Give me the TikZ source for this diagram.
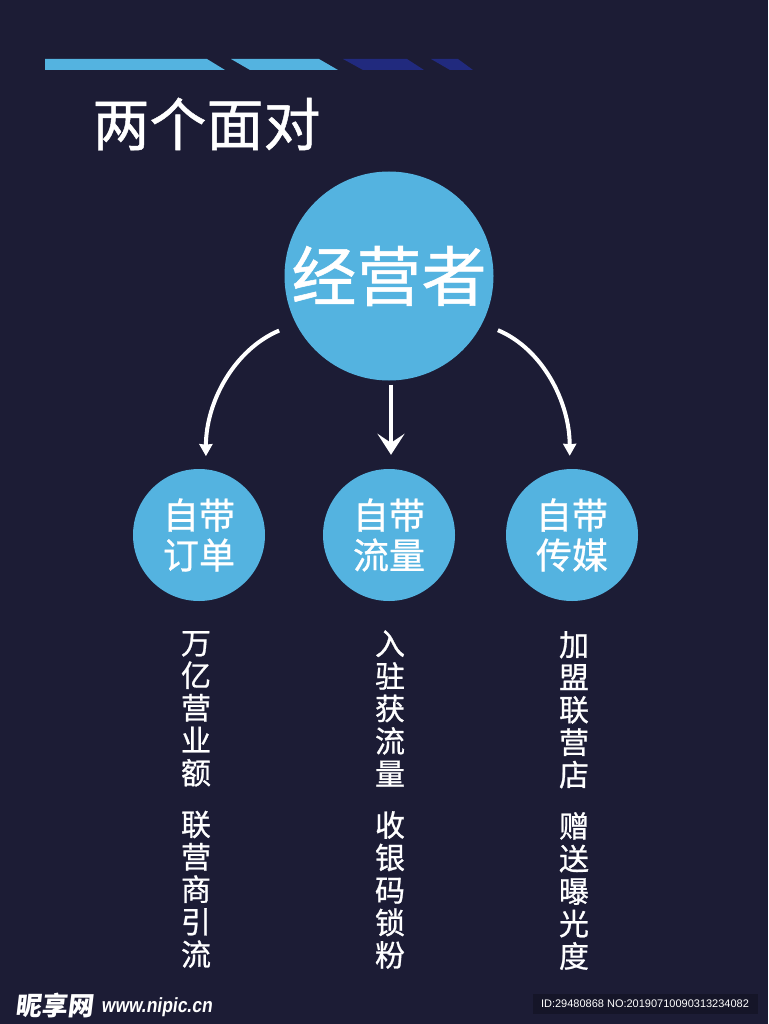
\documentclass[tikz,border=0pt]{standalone}
\usepackage{fontspec}
\setmainfont[FakeBold=0.8]{Noto Sans CJK SC}
\newfontfamily\logofont[FakeSlant=0.12,BoldFeatures={FakeSlant=0.12}]{Noto Sans CJK SC}
\newfontfamily\markfont[FakeSlant=0.15,FakeStretch=0.85]{Liberation Sans Bold}
\newfontfamily\idfont{Liberation Sans}
\usetikzlibrary{arrows.meta}
\definecolor{bgnavy}{HTML}{1C1C35}
\definecolor{skyblue}{HTML}{54B3E0}
\definecolor{darkblue}{HTML}{212A7E}
\tikzstyle{boss} = [circle, minimum size=209pt, inner sep=0pt, text centered, fill=skyblue, text=white, font=\fontsize{65}{65}\selectfont]
\tikzstyle{self} = [circle, minimum size=132pt, inner sep=0pt, text centered, fill=skyblue, text=white, align=center, font=\fontsize{36}{40}\selectfont]
\tikzstyle{column} = [inner sep=0pt, text=white, align=center, font=\fontsize{30}{32.5}\selectfont]
\tikzstyle{arrow} = [line width=4pt, white, -{Stealth[length=12pt,width=13pt,inset=0.5pt]}]
\tikzstyle{bigarrow} = [line width=3.5pt, white, -{Stealth[length=21pt,width=27pt,inset=9pt]}]

\begin{document}
\begin{tikzpicture}[x=1pt, y=-1pt]
		\fill [bgnavy] (0,0) rectangle (768,1024);
		% bars on top
		\fill [skyblue] (45,59) -- (207,59) -- (225,70) -- (45,70) -- cycle;
		\fill [skyblue] (231,59) -- (319,59) -- (338,70) -- (250,70) -- cycle;
		\fill [darkblue] (343,59) -- (407,59) -- (424,70) -- (363,70) -- cycle;
		\fill [darkblue] (431,59) -- (458,59) -- (473,70) -- (450,70) -- cycle;

		\node (title) [text=white, inner sep=0pt, font=\fontsize{57}{57}\selectfont] at (206.5,124) {两个面对};
		\node (l0) [boss] at (389,276) {经营者};
		\node (l1) [self] at (199,535) {自带\\订单};
		\node (l2) [self] at (389,535) {自带\\流量};
		\node (l3) [self] at (572,535) {自带\\传媒};

		\node (c1) [column] at (196,799.5) {万\\亿\\营\\业\\额\\[19pt]联\\营\\商\\引\\流};
		\node (c2) [column] at (390,799.5) {入\\驻\\获\\流\\量\\[19pt]收\\银\\码\\锁\\粉};
		\node (c3) [column] at (574,800.5) {加\\盟\\联\\营\\店\\[19pt]赠\\送\\曝\\光\\度};

		\draw [arrow, shorten <=18pt, shorten >=13pt] (l0.207) to [out=203, in=90] (l1.84);
		\draw [bigarrow, shorten <=4pt, shorten >=14pt] ([xshift=2pt]l0.south) -- ([xshift=2pt]l2.north);
		\draw [arrow, shorten <=17pt, shorten >=13pt] (l0.333) to [out=-23, in=90] (l3.92);

		% watermark
		\node (logo) [text=white, inner sep=0pt, anchor=west, font=\fontsize{26}{26}\selectfont] at (15,1006) {\logofont\bfseries 昵享网};
		\node (site) [text=white, inner sep=0pt, anchor=west, font=\fontsize{20.5}{20.5}\selectfont] at (101,1007) {\markfont www.nipic.cn};
		\node (idbox) [fill=black!25!bgnavy, minimum width=225pt, minimum height=20pt, inner sep=0pt, text=white, font=\fontsize{11}{11}\selectfont] at (645,1004) {\idfont ID:29480868 NO:20190710090313234082};
\end{tikzpicture}
\end{document}
